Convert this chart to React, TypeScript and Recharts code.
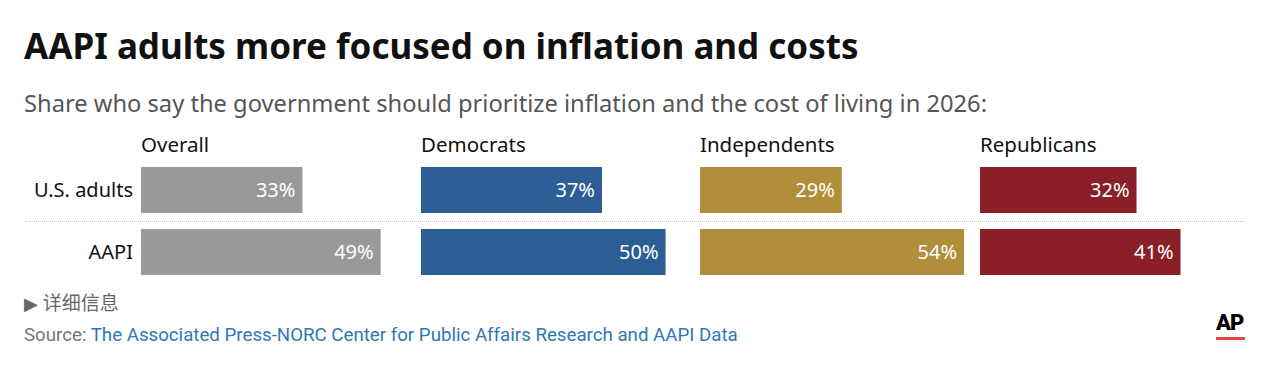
import React from 'react';
import { BarChart, Bar, XAxis, YAxis, LabelList } from 'recharts';

const groups = ['Overall', 'Democrats', 'Independents', 'Republicans'];
const rowLabels = ['U.S. adults', 'AAPI'];
const usAdults = [33, 37, 29, 32];
const aapi = [49, 50, 54, 41];
const groupColors = ['#999999', '#2c5d95', '#b08e3a', '#8a1f28'];

const panelLeft = [141, 421, 700, 980];
const PANEL_W = 269;
const CHART_TOP = 159;
const CHART_H = 124;
const font = '"Noto Sans", Roboto, sans-serif';
const narrow = 'Roboto, "Noto Sans", sans-serif';

function Panel({ idx }: { idx: number }) {
    const data = rowLabels.map((row, i) => ({
        row,
        value: i === 0 ? usAdults[idx] : aapi[idx]
    }));
    const withAxis = idx === 0;
    const left = withAxis ? 0 : panelLeft[idx];
    const width = withAxis ? panelLeft[0] + PANEL_W : PANEL_W;

    return (
        <div style={{ position: 'absolute', left, top: CHART_TOP }}>
            <BarChart
                width={width}
                height={CHART_H}
                data={data}
                layout="vertical"
                margin={{ top: 0, right: 0, bottom: 0, left: 0 }}
            >
                <XAxis type="number" domain={[0, 55]} hide />
                <YAxis
                    type="category"
                    dataKey="row"
                    hide={!withAxis}
                    width={withAxis ? panelLeft[0] : 0}
                    axisLine={false}
                    tickLine={false}
                    tickMargin={2}
                    tick={{ fill: '#111', fontSize: 20, fontFamily: font }}
                />
                <Bar dataKey="value" fill={groupColors[idx]} barSize={46} isAnimationActive={false}>
                    <LabelList
                        dataKey="value"
                        position="insideRight"
                        offset={7}
                        formatter={(v: number) => `${v}%`}
                        style={{ fill: '#fff', fontSize: 20, fontFamily: font }}
                    />
                </Bar>
            </BarChart>
        </div>
    );
}

export default function App() {
    return (
        <div style={{ position: 'absolute', left: 0, top: 0, width: 1280, height: 374, background: '#fff', fontFamily: font, lineHeight: 1 }}>
            <div style={{ position: 'absolute', left: 24, top: 28, fontSize: 35, fontWeight: 700, color: '#111', whiteSpace: 'nowrap' }}>
                AAPI adults more focused on inflation and costs
            </div>
            <div style={{ position: 'absolute', left: 24, top: 92, fontSize: 23.7, color: '#555', whiteSpace: 'nowrap' }}>
                Share who say the government should prioritize inflation and the cost of living in 2026:
            </div>

            {groups.map((g, i) => (
                <div key={g} style={{ position: 'absolute', left: panelLeft[i], top: 134, fontSize: 20.5, color: '#111' }}>
                    {g}
                </div>
            ))}

            <div style={{ position: 'absolute', left: 25, top: 221, width: 1220, borderTop: '1px dotted #c8c8c8' }} />

            {groups.map((g, i) => (
                <Panel key={g} idx={i} />
            ))}

            <div style={{ position: 'absolute', left: 24, top: 292, fontSize: 18, color: '#666', whiteSpace: 'nowrap' }}>
                ▶ <span style={{ fontFamily: '"Noto Sans CJK SC", sans-serif', fontSize: 19 }}>详细信息</span>
            </div>
            <div style={{ position: 'absolute', left: 24, top: 326, fontSize: 18.7, color: '#777', whiteSpace: 'nowrap', fontFamily: narrow }}>
                Source: <span style={{ color: '#2f77b5' }}>The Associated Press-NORC Center for Public Affairs Research and AAPI Data</span>
            </div>

            <div style={{ position: 'absolute', left: 1216, top: 312, fontSize: 22, fontWeight: 900, color: '#000', letterSpacing: -1, fontFamily: narrow }}>
                AP
            </div>
            <div style={{ position: 'absolute', left: 1216, top: 337, width: 29, height: 3, background: '#e2483d' }} />
        </div>
    );
}
